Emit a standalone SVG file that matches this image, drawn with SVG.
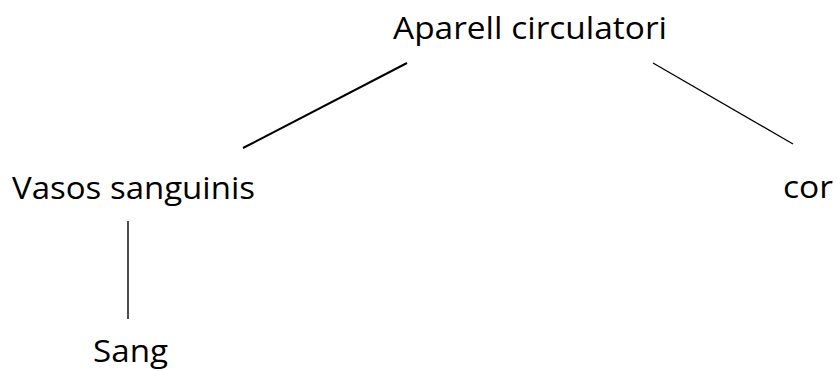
<svg xmlns="http://www.w3.org/2000/svg" width="837" height="371" viewBox="0 0 837 371">
<style>
text{font-family:"Open Sans","Noto Sans","Liberation Sans",sans-serif;font-size:31px;fill:#000}
.c line{stroke:#000;fill:none}
</style>
<rect width="837" height="371" fill="#fff"/>
<g class="c" id="connectors">
<line x1="243" y1="148" x2="407" y2="63" stroke-width="2"/>
<line x1="653" y1="63" x2="793" y2="144" stroke-width="1.4"/>
<line x1="128" y1="221" x2="128" y2="319" stroke-width="1.4"/>
</g>
<g id="n-aparell"><text x="393" y="39" textLength="274" lengthAdjust="spacingAndGlyphs">Aparell circulatori</text></g>
<g id="n-vasos"><text x="12" y="199" textLength="243" lengthAdjust="spacingAndGlyphs">Vasos sanguinis</text></g>
<g id="n-cor"><text x="783" y="198" textLength="50" lengthAdjust="spacingAndGlyphs">cor</text></g>
<g id="n-sang"><text x="93" y="362" textLength="75" lengthAdjust="spacingAndGlyphs">Sang</text></g>
</svg>
